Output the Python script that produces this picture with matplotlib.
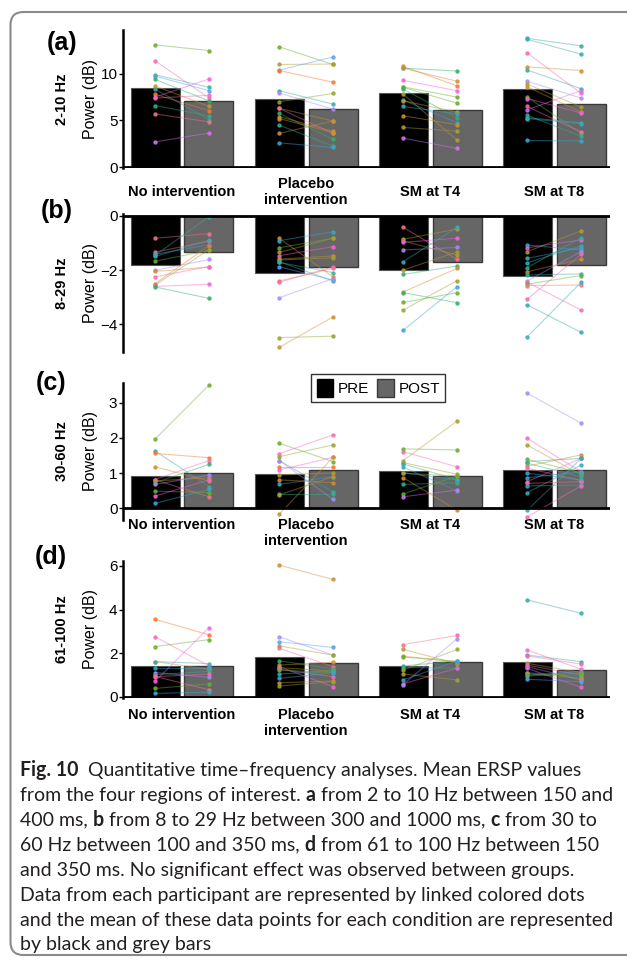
import numpy as np
import matplotlib
matplotlib.use('Agg')
import matplotlib.pyplot as plt
import matplotlib.transforms as mtransforms
import seaborn as sns
from matplotlib.patches import Patch, FancyBboxPatch

# ---- data ----
groups = ['No intervention', 'Placebo\nintervention', 'SM at T4', 'SM at T8']
bands = ['2-10 Hz', '8-29 Hz', '30-60 Hz', '61-100 Hz']
tags = ['(a)', '(b)', '(c)', '(d)']

a_mean_pre = [8.45, 7.27, 7.9, 8.42]
a_mean_post = [7.12, 6.22, 6.12, 6.77]
a_pre = [[13.1, 11.4, 9.9, 9.75, 9.4, 8.7, 8.35, 7.8, 7.5, 7.4, 6.6, 5.7, 2.7],
         [12.9, 11.0, 10.4, 10.35, 8.2, 7.95, 7.0, 6.3, 6.3, 5.75, 5.4, 5.2, 4.5, 3.6, 2.6],
         [10.8, 10.6, 10.6, 9.3, 8.6, 8.55, 8.35, 7.8, 7.2, 7.1, 6.5, 5.5, 4.25, 3.1],
         [13.8, 13.7, 12.25, 10.75, 10.4, 9.2, 8.9, 8.6, 7.5, 7.35, 6.5, 6.15, 5.55, 5.3, 5.2, 2.85]]
a_post = [[12.5, 7.4, 8.55, 8.2, 7.1, 6.5, 5.1, 6.05, 9.45, 7.7, 5.5, 4.85, 3.65],
          [11.0, 11.05, 11.8, 9.1, 6.75, 6.2, 7.9, 4.95, 3.6, 3.0, 3.85, 3.7, 2.25, 4.95, 2.1],
          [8.7, 10.3, 9.2, 8.2, 7.5, 6.85, 5.3, 2.9, 4.75, 5.9, 5.7, 4.55, 3.85, 2.0],
          [13.0, 12.1, 7.9, 10.35, 8.4, 7.4, 6.45, 5.9, 3.65, 5.8, 3.75, 8.2, 3.3, 4.75, 4.65, 2.8]]
a_hue = [[5, 15, 8, 11, 6, 2, 7, 1, 14, 15, 7, 0, 13],
         [5, 3, 11, 1, 8, 12, 4, 3, 15, 6, 2, 2, 7, 2, 10],
         [1, 6, 2, 14, 5, 5, 6, 3, 10, 3, 9, 2, 3, 13],
         [8, 9, 15, 2, 8, 12, 3, 2, 5, 14, 15, 13, 7, 10, 9, 10]]

b_mean_pre = [-1.82, -2.09, -2.0, -2.21]
b_mean_post = [-1.35, -1.88, -1.72, -1.81]
b_pre = [[-0.83, -1.34, -1.42, -1.46, -1.5, -1.67, -2.01, -2.05, -2.25, -2.5, -2.55, -2.6, -2.62],
         [-0.83, -0.92, -1.18, -1.35, -1.47, -1.6, -1.63, -1.69, -1.72, -1.88, -2.4, -2.45, -3.02, -4.48, -4.84],
         [-0.43, -0.87, -0.93, -0.98, -1.26, -1.69, -2.0, -2.16, -2.8, -2.83, -3.19, -3.47, -4.21],
         [-1.08, -1.18, -1.32, -1.57, -1.73, -1.91, -2.06, -2.18, -2.4, -2.45, -2.52, -2.57, -3.07, -3.28, -4.45]]
b_post = [[-0.66, -0.94, -1.07, -0.04, -0.9, -1.28, -1.61, -1.89, -1.87, -1.1, -1.25, -2.52, -3.04],
          [-2.25, -0.59, -0.83, -0.83, -1.14, -1.48, -1.55, -2.4, -2.09, -2.37, -1.94, -1.88, -2.31, -4.43, -3.72],
          [-1.61, -0.49, -1.45, -0.83, -1.17, -0.43, -1.33, -1.85, -1.94, -3.2, -2.83, -2.39, -2.61],
          [-1.26, -0.89, -0.56, -1.18, -1.11, -0.81, -1.6, -2.14, -1.32, -3.47, -2.2, -2.55, -1.42, -4.29, -2.45]]
b_hue = [[0, 0, 10, 8, 9, 5, 12, 2, 15, 1, 4, 14, 6],
         [2, 10, 5, 3, 14, 2, 4, 7, 8, 11, 1, 15, 12, 4, 2],
         [0, 3, 3, 14, 12, 9, 3, 6, 2, 6, 5, 4, 10],
         [10, 14, 3, 10, 9, 8, 2, 8, 12, 15, 5, 0, 15, 8, 9]]

c_mean_pre = [0.93, 0.97, 1.06, 1.09]
c_mean_post = [1.01, 1.09, 0.92, 1.09]
c_pre = [[1.97, 1.63, 1.56, 1.18, 0.82, 0.81, 0.78, 0.73, 0.68, 0.49, 0.35, 0.14],
         [1.85, 1.55, 1.47, 1.36, 1.18, 1.09, 0.95, 0.81, 0.68, 0.41, 0.38, -0.17, 1.36],
         [1.69, 1.61, 1.36, 1.3, 1.26, 1.17, 1.01, 1.0, 0.87, 0.68, 0.41, 0.33],
         [3.27, 1.99, 1.8, 1.39, 1.33, 1.28, 1.2, 1.14, 1.0, 0.87, 0.76, 0.71, 0.64, 0.45, -0.05, -0.24]]
c_post = [[3.5, 0.62, 1.44, 0.78, 1.36, 0.33, 0.87, 1.25, 0.95, 0.45, 0.81, 0.54],
          [1.33, 2.09, 1.8, 0.47, 1.18, 1.45, 1.01, 0.73, 0.9, 0.41, 0.9, 1.45, 0.26],
          [1.66, 1.18, 2.48, 0.97, 0.82, 0.5, 0.81, 0.92, -0.05, 0.73, 0.92, 0.52],
          [2.42, 1.04, 0.95, 1.01, 1.42, 0.9, 1.52, 0.79, 0.81, 1.04, 1.42, 0.76, 0.66, 1.23, 1.42, 0.64]]
c_hue = [[5, 8, 1, 2, 15, 0, 2, 6, 12, 5, 14, 10],
         [5, 15, 4, 8, 1, 14, 3, 2, 10, 7, 3, 2, 12],
         [5, 15, 3, 4, 8, 9, 10, 3, 2, 7, 5, 13],
         [12, 15, 3, 5, 8, 7, 2, 15, 10, 10, 14, 0, 10, 9, 8, 15]]

d_mean_pre = [1.41, 1.8, 1.4, 1.6]
d_mean_post = [1.4, 1.54, 1.6, 1.22]
d_pre = [[3.55, 2.75, 2.3, 1.61, 1.61, 1.31, 1.11, 1.01, 0.93, 0.92, 0.71, 0.38, 0.15],
         [6.04, 2.75, 2.52, 2.33, 2.22, 1.65, 1.45, 1.38, 1.33, 1.26, 1.22, 1.04, 0.84, 0.64, 0.49],
         [2.39, 2.17, 1.86, 1.82, 1.41, 1.34, 1.22, 1.04, 0.77, 0.59, 0.56],
         [4.44, 2.14, 1.91, 1.87, 1.53, 1.45, 1.38, 1.3, 1.1, 1.07, 0.99, 0.95, 0.8]]
d_post = [[2.84, 1.41, 2.62, 1.26, 1.52, 1.31, 0.89, 1.16, 0.32, 1.04, 3.17, 0.59, 0.21],
          [5.38, 1.91, 2.26, 1.91, 1.38, 1.27, 1.58, 0.46, 1.18, 0.92, 1.1, 1.18, 1.1, 0.72, 0.69],
          [2.81, 1.52, 1.61, 1.61, 1.64, 1.31, 2.17, 0.77, 1.64, 1.31, 2.66],
          [3.83, 1.26, 1.61, 1.5, 1.1, 0.99, 0.77, 0.43, 0.92, 0.84, 1.15, 1.07, 0.69]]
d_hue = [[1, 15, 5, 2, 8, 10, 12, 7, 0, 15, 14, 5, 10],
         [2, 12, 11, 4, 15, 6, 2, 14, 3, 15, 5, 8, 10, 2, 4],
         [0, 3, 2, 5, 7, 8, 4, 3, 10, 14, 12],
         [8, 15, 8, 15, 3, 15, 12, 14, 7, 3, 10, 5, 11]]

# ---- figure ----
W, H = 627, 963
fig = plt.figure(figsize=(W / 100, H / 100), dpi=100)
narrow = ['Liberation Sans Narrow', 'Liberation Sans', 'DejaVu Sans']
cap_font = ['Lato', 'DejaVu Sans']
pal = sns.color_palette('husl', 16)


def fx(px):
    return px / W


def fy(py):
    return 1 - py / H


# frame with rounded corners, open to the right edge
frame = FancyBboxPatch((0.105, 0.08), 6.6, 9.43, boxstyle='round,pad=0,rounding_size=0.13',
                       transform=fig.dpi_scale_trans, fill=False, ec='#8a8a8a', lw=1.5)
fig.add_artist(frame)

# left, top, right, bottom in pixels
boxes = [(123, 30, 610, 168), (123, 214.3, 610, 351.7), (123, 382.7, 610, 520), (123, 560.7, 610, 697.8)]
ylims = [(-0.1, 14.7), (-5.0, 0.05), (-0.33, 3.57), (-0.05, 6.24)]
yticks = [[0, 5, 10], [0, -2, -4], [0, 1, 2, 3], [0, 2, 4, 6]]
tag_pos = [(62, 43), (57, 211), (51, 383), (51, 557)]

panels = [(a_pre, a_post, a_hue, a_mean_pre, a_mean_post),
          (b_pre, b_post, b_hue, b_mean_pre, b_mean_post),
          (c_pre, c_post, c_hue, c_mean_pre, c_mean_post),
          (d_pre, d_post, d_hue, d_mean_pre, d_mean_post)]

off = 0.217
bw = 0.395
x = np.arange(len(groups))

for k, (pre, post, hue, mpre, mpost) in enumerate(panels):
    l, t, r, b = boxes[k]
    ax = fig.add_axes([fx(l), fy(b), fx(r - l), (b - t) / H])
    ax.bar(x - off, mpre, width=bw, color='black', edgecolor='#555555', lw=0.8, zorder=2)
    ax.bar(x + off, mpost, width=bw, color='#666666', edgecolor='#3a3a3a', lw=1.0, zorder=2)
    for i in range(len(groups)):
        for p0, p1, h in zip(pre[i], post[i], hue[i]):
            ax.plot([i - off, i + off], [p0, p1], color=pal[h], alpha=0.45, lw=0.8, zorder=3)
            ax.plot([i - off, i + off], [p0, p1], ls='none', marker='o', ms=2.2,
                    color=pal[h], alpha=0.8, zorder=4)
    ax.axhline(0, color='black', lw=2, zorder=5)
    ax.set_xlim(-0.476, 3.45)
    ax.set_ylim(*ylims[k])
    ax.set_yticks(yticks[k])
    ax.set_xticks([])
    for s in ['top', 'right', 'bottom']:
        ax.spines[s].set_visible(False)
    ax.spines['left'].set_linewidth(1.8)
    ax.tick_params(axis='y', length=3, width=1, pad=1, labelsize=11)
    for lab in ax.get_yticklabels():
        lab.set_family(narrow)
    ax.patch.set_alpha(0)

    yc = (t + b) / 2
    fig.text(fx(91), fy(yc), 'Power (dB)', rotation=90, ha='center', va='center',
             fontsize=11.5, family=narrow)
    fig.text(fx(62), fy(yc), bands[k], rotation=90, ha='center', va='center',
             fontsize=10.5, fontweight='bold', family=narrow)
    fig.text(fx(tag_pos[k][0]), fy(tag_pos[k][1]), tags[k], ha='center', va='center',
             fontsize=18, fontweight='bold', family=['Liberation Sans', 'DejaVu Sans'])

    trans = mtransforms.blended_transform_factory(ax.transData, fig.transFigure)
    if k == 0:
        for i, g in enumerate(groups):
            ax.text(i, fy(192), g, transform=trans, ha='center', va='center',
                    fontsize=10.5, fontweight='bold', family=narrow, linespacing=1.15)
    elif k in (2, 3):
        ytop = 518 if k == 2 else 708
        for i, g in enumerate(groups):
            ax.text(i, fy(ytop), g, transform=trans, ha='center', va='top',
                    fontsize=10.5, fontweight='bold', family=narrow, linespacing=1.15)
    if k == 2:
        handles = [Patch(facecolor='black', edgecolor='black'),
                   Patch(facecolor='#666666', edgecolor='#3a3a3a')]
        leg = ax.legend(handles, ['PRE', 'POST'], ncol=2, loc='center',
                        bbox_to_anchor=(0.524, 0.96), frameon=True, fancybox=False,
                        handlelength=1.1, handleheight=1.4, handletextpad=0.3,
                        columnspacing=0.5, borderpad=0.35, prop={'family': narrow, 'size': 11})
        leg.get_frame().set_edgecolor('black')
        leg.get_frame().set_linewidth(1)
        leg.set_zorder(10)

# ---- caption ----
cap_lines = [
    [('Fig. 10', True), ('  Quantitative time\u2013frequency analyses. Mean ERSP values', False)],
    [('from the four regions of interest. ', False), ('a', True), (' from 2 to 10 Hz between 150 and', False)],
    [('400 ms, ', False), ('b', True), (' from 8 to 29 Hz between 300 and 1000 ms, ', False), ('c', True),
     (' from 30 to', False)],
    [('60 Hz between 100 and 350 ms, ', False), ('d', True), (' from 61 to 100 Hz between 150', False)],
    [('and 350 ms. No significant effect was observed between groups.', False)],
    [('Data from each participant are represented by linked colored dots', False)],
    [('and the mean of these data points for each condition are represented', False)],
    [('by black and grey bars', False)],
]
cap_y = [770, 795, 820, 845, 870, 895, 920, 944]

renderer = fig.canvas.get_renderer()
probe = fig.text(0, 0, cap_lines[6][0][0], fontsize=12, family=cap_font)
wprobe = probe.get_window_extent(renderer).width
probe.remove()
cap_fs = 12 * 592 / wprobe


def seg_width(s, bold):
    # bracketing chars so that leading/trailing spaces are counted
    t1 = fig.text(0, 0, '|' + s + '|', fontsize=cap_fs, family=cap_font,
                  fontweight='bold' if bold else 'normal')
    t2 = fig.text(0, 0, '||', fontsize=cap_fs, family=cap_font,
                  fontweight='bold' if bold else 'normal')
    w = t1.get_window_extent(renderer).width - t2.get_window_extent(renderer).width
    t1.remove()
    t2.remove()
    return w


for parts, yy in zip(cap_lines, cap_y):
    xpos = 20.0
    for s, bold in parts:
        fig.text(fx(xpos), fy(yy), s, fontsize=cap_fs, family=cap_font, va='center',
                 fontweight='bold' if bold else 'normal', color='#231f20')
        xpos += seg_width(s, bold)

fig.savefig('out.png', dpi=100)
